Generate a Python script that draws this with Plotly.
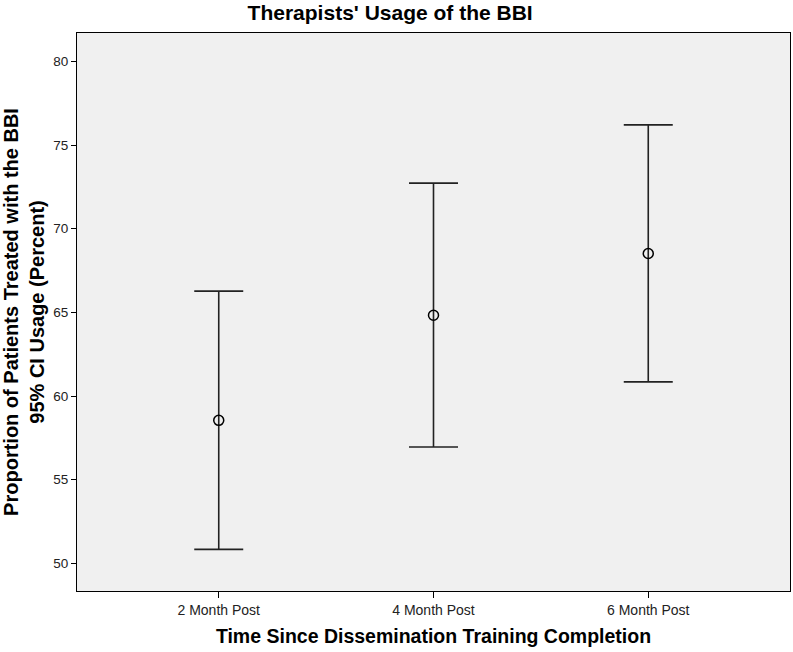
import plotly.graph_objects as go

# Dati (media e IC 95%)
periodi = ["2 Month Post", "4 Month Post", "6 Month Post"]
media = [58.55, 64.83, 68.52]
ic_sup = [66.27, 72.73, 76.21]
ic_inf = [50.84, 56.96, 60.85]

err_plus = [s - m for s, m in zip(ic_sup, media)]
err_minus = [m - i for m, i in zip(media, ic_inf)]

FONT = "Liberation Sans, Arial, sans-serif"

fig = go.Figure()
fig.add_trace(go.Scatter(
    x=periodi,
    y=media,
    mode="markers",
    marker=dict(symbol="circle-open", size=10, color="black", line=dict(width=1.5, color="black")),
    error_y=dict(type="data", symmetric=False, array=err_plus, arrayminus=err_minus,
                 color="#222222", thickness=1.6, width=24.5),
    showlegend=False,
))

fig.update_layout(
    width=793,
    height=652,
    paper_bgcolor="white",
    plot_bgcolor="#f0f0f0",
    margin=dict(l=77, r=3, t=33, b=61),
    font=dict(family=FONT, color="#222222"),
    title=dict(text="<b>Therapists' Usage of the BBI</b>", x=0.492, xanchor="center",
               y=0.981, yanchor="middle", font=dict(size=21, color="black", family=FONT)),
)

fig.update_xaxes(
    type="category",
    range=[-0.66, 2.66],
    showline=True, linecolor="black", linewidth=1, mirror=True,
    ticks="outside", ticklen=6, tickcolor="black",
    tickfont=dict(size=14, color="#222222"),
    showgrid=False, zeroline=False,
    title=dict(text="<b>Time Since Dissemination Training Completion</b>",
               font=dict(size=19.5, color="black"), standoff=12),
)
fig.update_yaxes(
    range=[48.35, 81.7],
    tickvals=[50, 55, 60, 65, 70, 75, 80],
    showline=True, linecolor="black", linewidth=1, mirror=True,
    ticks="outside", ticklen=5, tickcolor="black",
    tickfont=dict(size=13.5, color="#222222"),
    showgrid=False, zeroline=False,
    title=dict(text="<b>Proportion of Patients Treated with the BBI<br>95% CI Usage (Percent)</b>",
               font=dict(size=20, color="black"), standoff=6),
)

# niente margine della pagina, cosi' la figura parte da (0, 0)
fig.write_html("out.html", config={"displayModeBar": False},
               post_script="document.body.style.margin='0';")
